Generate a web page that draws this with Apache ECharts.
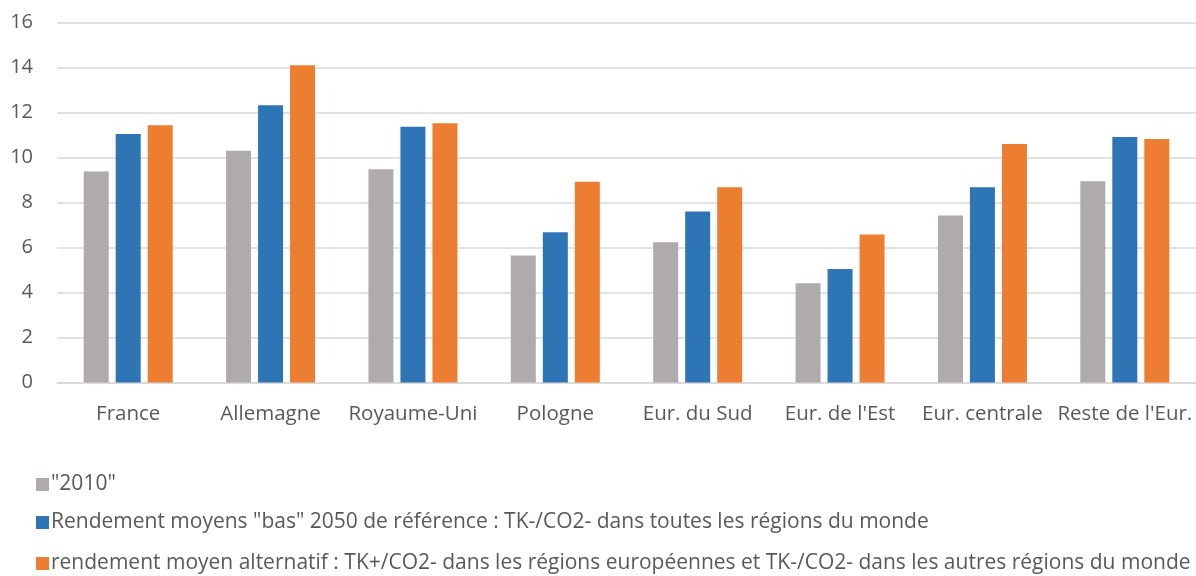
<!DOCTYPE html>
<html>
<head>
<meta charset="utf-8">
<style>
  html, body { margin: 0; padding: 0; background: #fff; }
  #chart { width: 1196px; height: 576px; }
</style>
<script src="https://cdn.jsdelivr.net/npm/echarts@6/dist/echarts.min.js"></script>
</head>
<body>
<div id="chart"></div>
<script>
const categories = ['France', 'Allemagne', 'Royaume-Uni', 'Pologne', 'Eur. du Sud', "Eur. de l'Est", 'Eur. centrale', "Reste de l'Eur."]
const seriesNames = [
  '"2010"',
  'Rendement moyens "bas" 2050 de référence : TK-/CO2- dans toutes les régions du monde',
  'rendement moyen alternatif : TK+/CO2- dans les régions européennes et TK-/CO2- dans les autres régions du monde'
]
const values2010 = [9.38, 10.30, 9.48, 5.65, 6.23, 4.41, 7.42, 8.95]
const valuesBas = [11.04, 12.32, 11.37, 6.68, 7.60, 5.05, 8.68, 10.91]
const valuesAlt = [11.43, 14.10, 11.52, 8.92, 8.68, 6.58, 10.60, 10.82]
const yTicks = { min: 0, max: 16, interval: 2 }

const colors = ['#AFABAB', '#2E75B6', '#ED7D31']
const textColor = '#595959'
const font = "'Open Sans', 'Noto Sans', sans-serif"

const chart = echarts.init(document.getElementById('chart'), null, { renderer: 'canvas' })

function legendAt (name, top) {
  return {
    data: [name],
    left: 31,
    top: top,
    itemWidth: 13,
    itemHeight: 13,
    itemGap: 4,
    icon: 'rect',
    selectedMode: false,
    textStyle: { color: textColor, fontSize: 21, fontFamily: font, padding: [0, 0, 0, -3] }
  }
}

chart.setOption({
  animation: false,
  color: colors,
  grid: { left: 57, right: 0, top: 22.5, bottom: 193.5, containLabel: false },
  legend: [
    legendAt(seriesNames[0], 469),
    legendAt(seriesNames[1], 507),
    legendAt(seriesNames[2], 548)
  ],
  xAxis: {
    type: 'category',
    data: categories,
    axisLine: { lineStyle: { color: '#D9D9D9', width: 1.5 } },
    axisTick: { show: false },
    axisLabel: { color: textColor, fontSize: 20.5, fontFamily: font, margin: 21, interval: 0 }
  },
  yAxis: {
    type: 'value',
    min: yTicks.min,
    max: yTicks.max,
    interval: yTicks.interval,
    axisLine: { show: false },
    axisTick: { show: false },
    axisLabel: { color: textColor, fontSize: 20, fontFamily: font, margin: 24 },
    splitLine: { lineStyle: { color: '#D9D9D9', width: 1.5 } }
  },
  series: [
    { name: seriesNames[0], type: 'bar', data: values2010, barWidth: 25, barGap: '28%', barCategoryGap: '37%' },
    { name: seriesNames[1], type: 'bar', data: valuesBas, barWidth: 25, barGap: '28%' },
    { name: seriesNames[2], type: 'bar', data: valuesAlt, barWidth: 25, barGap: '28%' }
  ]
})
</script>
</body>
</html>
